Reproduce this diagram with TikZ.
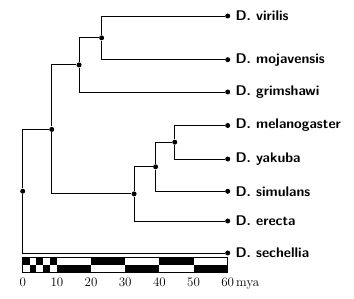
\documentclass[tikz,border=0pt]{standalone}
\begin{document}
\begin{tikzpicture}[x=3.417pt, y=-1pt, line width=0.9pt,
  dot/.style={circle, fill, inner sep=0pt, minimum size=5pt},
  taxon/.style={font=\fontsize{14}{16}\selectfont\sffamily\bfseries, inner sep=2pt},
  num/.style={font=\fontsize{13}{15}\selectfont, anchor=base, inner sep=0pt}]
  \useasboundingbox (-22.7pt,0pt) rectangle (331.3pt,-299pt);
  % leaves
  \node[dot, label={[taxon, label distance=2.5pt]right:D. virilis}] (vir) at (60,16) {};
  \node[dot, label={[taxon, label distance=2.5pt]right:D. mojavensis}] (moj) at (60,59.7) {};
  \node[dot, label={[taxon, label distance=2.5pt]right:D. grimshawi}] (gri) at (60,92) {};
  \node[dot, label={[taxon, label distance=2.5pt]right:D. melanogaster}] (mel) at (60,125.5) {};
  \node[dot, label={[taxon, label distance=2.5pt]right:D. yakuba}] (yak) at (60,159) {};
  \node[dot, label={[taxon, label distance=2.5pt]right:D. simulans}] (sim) at (60,191.3) {};
  \node[dot, label={[taxon, label distance=2.5pt]right:D. erecta}] (ere) at (60,221) {};
  \node[dot, label={[taxon, label distance=2.5pt]right:D. sechellia}] (sec) at (60,253) {};
  % inner nodes
  \node[dot] (root) at (0,191.2) {};
  \node[dot] (a) at (8.5,129.4) {};
  \node[dot] (b) at (16.5,64.9) {};
  \node[dot] (c) at (23.1,37.85) {};
  \node[dot] (d) at (32.6,193.9) {};
  \node[dot] (e) at (38.9,166.8) {};
  \node[dot] (f) at (44.5,142.2) {};
  % branches
  \draw (root) |- (a);  \draw (root) |- (sec);
  \draw (a) |- (b);     \draw (a) |- (d);
  \draw (b) |- (c);     \draw (b) |- (gri);
  \draw (c) |- (vir);   \draw (c) |- (moj);
  \draw (d) |- (e);     \draw (d) |- (ere);
  \draw (e) |- (f);     \draw (e) |- (sim);
  \draw (f) |- (mel);   \draw (f) |- (yak);
  % time scale
  \foreach \a/\b [count=\i] in {0/2,2/4,4/6,6/8,8/10,10/20,20/30,30/40,40/50,50/60} {
    \pgfmathsetmacro\yt{mod(\i,2)==1 ? 257.7 : 265.2}
    \fill (\a,\yt) rectangle (\b,{\yt+7.5});
  }
  \draw (0,257.7) rectangle (60,272.7);
  \foreach \t in {0,10,...,50}
    \node[num] (t\t) at (\t,286.7) {\t};
  \node[num] (t60) at (60,286.7) {60\rlap{\,mya}};
\end{tikzpicture}
\end{document}
